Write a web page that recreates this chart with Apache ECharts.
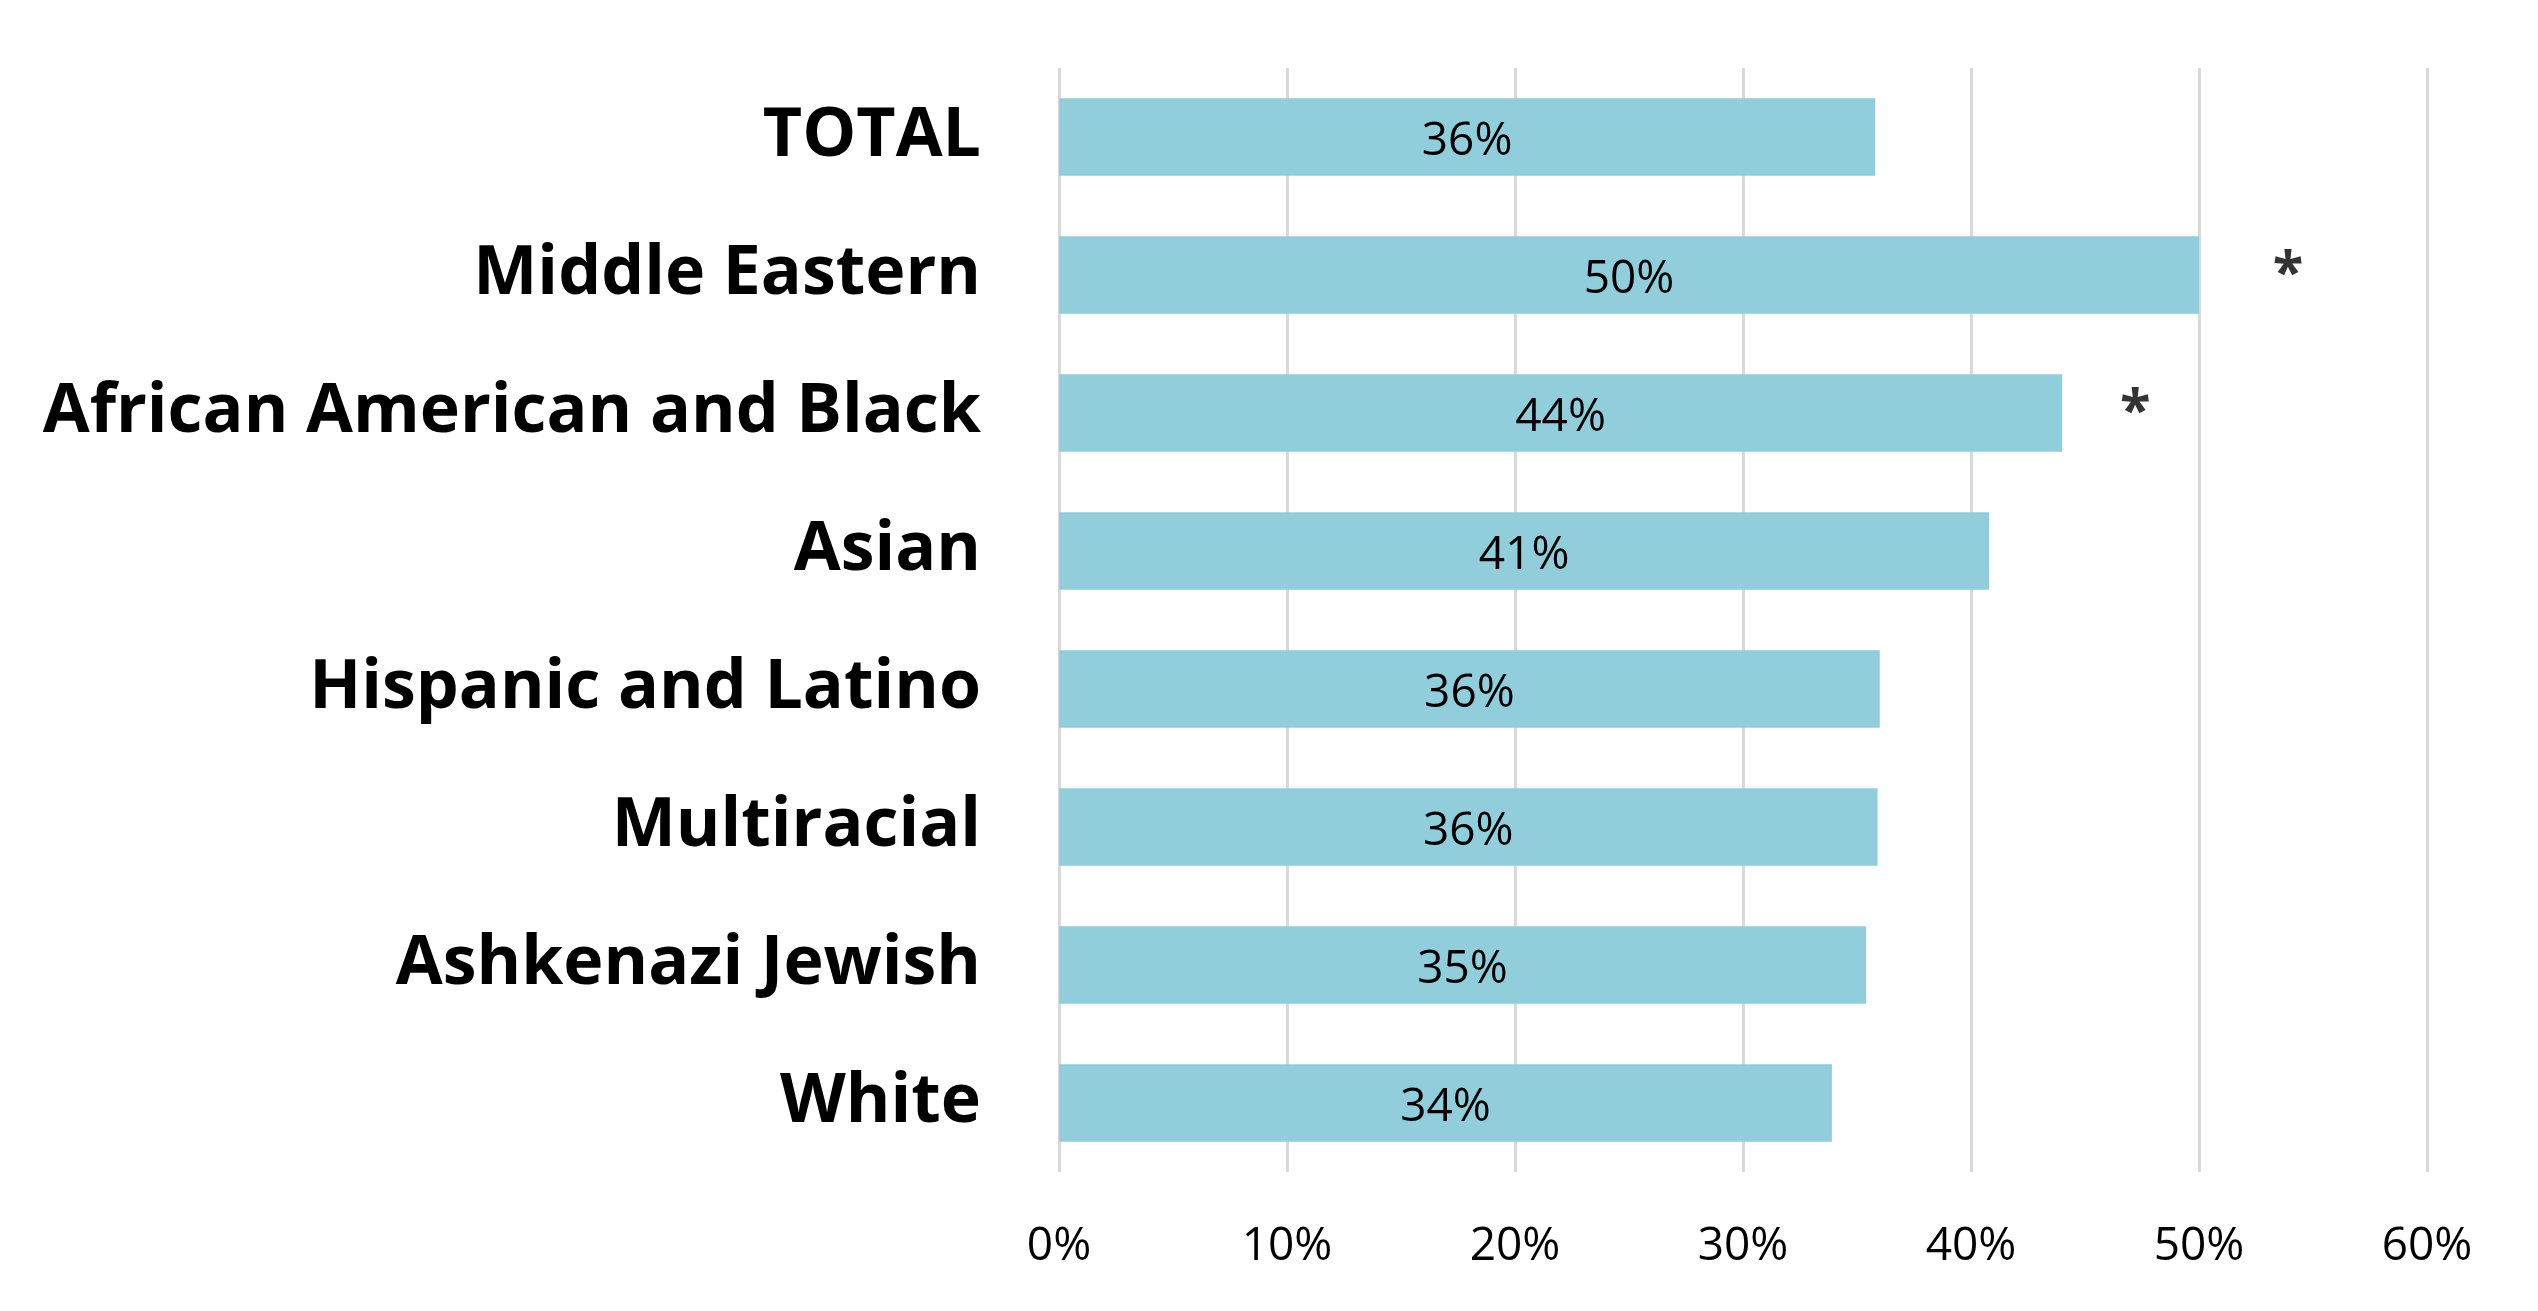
<!DOCTYPE html>
<html>
<head>
    <meta charset="utf-8">
    <script src="https://cdn.jsdelivr.net/npm/echarts@6/dist/echarts.min.js"></script>
    <style>
        html, body { margin: 0; padding: 0; background: #fff; }
    </style>
</head>
<body>
<div id="chart" style="width: 2538px;height:1311px;"></div>
<script type="text/javascript">
    // categories, top to bottom
    var categories = ['TOTAL', 'Middle Eastern', 'African American and Black', 'Asian',
        'Hispanic and Latino', 'Multiracial', 'Ashkenazi Jewish', 'White'];
    // percentages
    var values = [35.8, 50.0, 44.0, 40.8, 36.0, 35.9, 35.4, 33.9];
    // significance markers: [x position in %, category]
    var markers = [[53.9, 'Middle Eastern'], [47.2, 'African American and Black']];
    var tickMax = 60;

    var myChart = echarts.init(document.getElementById('chart'));

    var option = {
        animation: false,
        backgroundColor: '#ffffff',
        grid: {
            left: 1059,
            right: 111,
            top: 68,
            bottom: 139
        },
        xAxis: {
            type: 'value',
            min: 0,
            max: tickMax,
            interval: 10,
            axisLine: { show: false },
            axisTick: { show: false },
            splitLine: {
                show: true,
                lineStyle: { color: '#d9d9d9', width: 3 }
            },
            axisLabel: {
                formatter: '{value}%',
                color: '#000',
                fontFamily: 'Open Sans',
                fontSize: 46,
                margin: 52
            }
        },
        yAxis: {
            type: 'category',
            data: categories,
            inverse: true,
            axisLine: { show: false },
            axisTick: { show: false },
            axisLabel: {
                color: '#000',
                fontFamily: 'Open Sans',
                fontWeight: 'bold',
                fontSize: 68,
                padding: [12, 0, 0, 0],
                margin: 78
            }
        },
        series: [{
            type: 'bar',
            data: values,
            barWidth: '56%',
            itemStyle: { color: '#92cddc' },
            label: {
                show: true,
                position: 'inside',
                offset: [0, 5],
                color: '#000',
                fontFamily: 'Open Sans',
                fontSize: 46,
                formatter: function (p) {
                    return Math.round(p.value) + '%';
                }
            }
        }, {
            type: 'scatter',
            data: markers,
            symbolSize: 0,
            silent: true,
            label: {
                show: true,
                position: 'inside',
                formatter: '*',
                color: '#000',
                textBorderWidth: 0,
                fontFamily: 'Open Sans',
                fontWeight: 'bold',
                fontSize: 56
            }
        }]
    };

    myChart.setOption(option);
</script>
</body>
</html>
